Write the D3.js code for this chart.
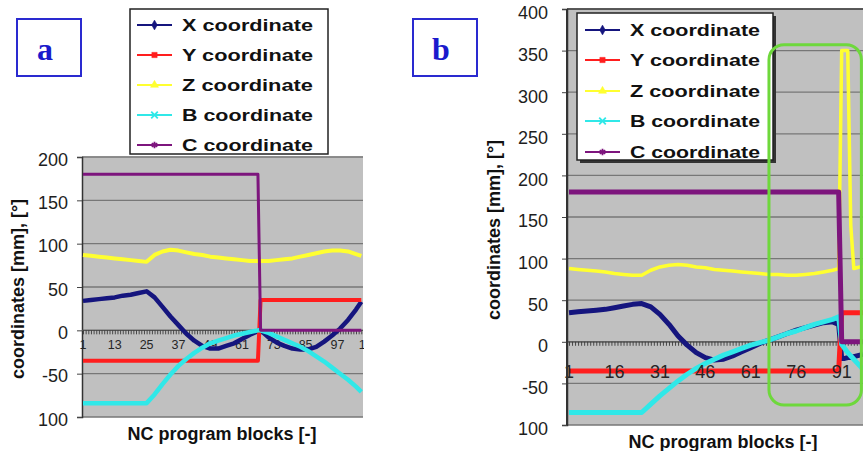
<!DOCTYPE html>
<html>
<head>
<meta charset="UTF-8">
<title>NC coordinates</title>
<script src="https://d3js.org/d3.v7.min.js"></script>
<style>
  body { margin: 0; background: #fff; }
  svg { display: block; font-family: "Liberation Sans", Arial, sans-serif; }
</style>
</head>
<body>
<svg width="863" height="451"></svg>
<script>
// ---- panel a data (NC block, value) ----
const aBlocks = [1,4,7,10,13,16,19,22,25,28,31,34,37,40,43,46,49,52,55,58,61,64,67,
                 68,71,74,77,80,83,86,89,92,95,98,101,104,106];
const aX = [34,35,36,37,38,40,41,43,45,38,27,16,6,-4,-12,-18,-21,-21,-18,-15,-10,-5,-1,
            0,-8,-14,-18,-21,-22,-22,-19,-13,-6,2,12,24,33];
const aY = [-35,-35,-35,-35,-35,-35,-35,-35,-35,-35,-35,-35,-35,-35,-35,-35,-35,-35,-35,-35,-35,-35,-35,
            35,35,35,35,35,35,35,35,35,35,35,35,35,35];
const aZ = [87,86,85,84,83,82,81,80,79,87,91,93,92,90,88,87,85,84,83,82,81,80,80,
            80,80,81,82,83,85,87,89,91,92,92,91,88,86];
const aB = [-84,-84,-84,-84,-84,-84,-84,-84,-84,-74,-62,-51,-41,-33,-26,-20,-15,-12,-9,-6,-4,-2,0,
            0,-3,-7,-11,-15,-19,-24,-30,-36,-43,-50,-57,-65,-71];
const aC = [180,180,180,180,180,180,180,180,180,180,180,180,180,180,180,180,180,180,180,180,180,180,180,
            0,0,0,0,0,0,0,0,0,0,0,0,0,0];
const aXLabels = [1,13,25,37,49,61,73,85,97,109];
const aYTicks = [200,150,100,50,0,-50,-100];
const aYLabels = ["200","150","100","50","0","-50","100"];

// ---- panel b data ----
const bBlocks = [1,4,7,10,13,16,19,22,25,28,31,34,37,40,43,46,49,52,55,58,61,64,67,70,73,76,79,82,85,88,
                 90,91,92,93,94,95,96,97,98];
const bX = [35,36,37,38,39,41,43,45,46,42,33,21,7,-4,-13,-19,-22,-21,-17,-12,-7,-2,2,6,10,14,17,20,23,24,
            21,-20,-20,-19,-19,-18,-17,-16,-15];
const bY = [-35,-35,-35,-35,-35,-35,-35,-35,-35,-35,-35,-35,-35,-35,-35,-35,-35,-35,-35,-35,-35,-35,-35,-35,-35,-35,-35,-35,-35,-35,
            -35,35,35,35,35,35,35,35,35];
const bZ = [88,87,86,85,84,82,81,80,80,86,90,92,93,92,90,89,87,86,85,84,83,82,81,81,80,80,81,82,84,86,
            88,350,350,350,140,88,89,90,90];
const bB = [-85,-85,-85,-85,-85,-85,-85,-85,-85,-75,-65,-56,-47,-39,-32,-26,-21,-16,-12,-8,-4,-1,2,6,10,13,17,21,24,27,
            30,-3,-8,-13,-17,-21,-25,-29,-33];
const bC = [180,180,180,180,180,180,180,180,180,180,180,180,180,180,180,180,180,180,180,180,180,180,180,180,180,180,180,180,180,180,
            180,0,0,0,0,0,0,0,0];
const bXLabels = [1,16,31,46,61,76,91];
const bYTicks = [400,350,300,250,200,150,100,50,0,-50,-100];
const bYLabels = ["400","350","300","250","200","150","100","50","0","-50","100"];

const seriesNames = ["X coordinate","Y coordinate","Z coordinate","B coordinate","C coordinate"];
const colors = ["#15157e","#ff1e1e","#ffff30","#30e8e8","#7d157d"];

const svg = d3.select("svg");
const defs = svg.append("defs");

function panel(o) {
  const g = svg.append("g");
  const x = d3.scaleLinear().domain(o.xDomain).range(o.xRange);
  const y = d3.scaleLinear().domain([-100, o.yMax]).range([o.bottom, o.top]);

  // plot area
  g.append("rect")
    .attr("x", o.left).attr("y", o.top)
    .attr("width", o.right - o.left).attr("height", o.bottom - o.top)
    .attr("fill", "#c0c0c0");

  // grid
  g.selectAll(".grid").data(o.yTicks).enter().append("line")
    .attr("x1", o.left).attr("x2", o.right)
    .attr("y1", d => y(d)).attr("y2", d => y(d))
    .attr("stroke", "#777").attr("stroke-width", 1.3);

  g.append("line")
    .attr("x1", o.left).attr("x2", o.right).attr("y1", o.top).attr("y2", o.top)
    .attr("stroke", o.frame).attr("stroke-width", 1.5);

  // y axis
  const ya = g.append("g")
    .attr("transform", `translate(${o.left},0)`)
    .call(d3.axisLeft(y).tickValues(o.yTicks).tickSize(5).tickFormat((d, i) => o.yLabels[i]));
  ya.select(".domain").attr("stroke", "#333").attr("stroke-width", 1.5);
  ya.selectAll(".tick line").attr("stroke", "#444");
  ya.selectAll("text")
    .attr("font-size", 18).attr("fill", "#1e1e1e")
    .attr("x", -(o.left - o.yLabelRight)).attr("dy", o.yLabelDy);
  ya.attr("font-family", null);

  // x axis (category ticks on the zero line)
  const cats = d3.range(o.xDomain[0], Math.floor(o.xDomain[1]) + 1);
  const xa = g.append("g")
    .attr("transform", `translate(0,${y(0)})`)
    .call(d3.axisBottom(x).tickValues(cats).tickSize(4).tickFormat(""));
  xa.select(".domain").attr("stroke", "#555").attr("stroke-width", 1.2)
    .attr("d", `M${o.left},0H${o.right}`);
  xa.selectAll(".tick line").attr("stroke", "#3a3a3a").attr("stroke-width", 0.9);

  defs.append("clipPath").attr("id", "clip" + o.id)
    .append("rect").attr("x", 0).attr("y", 0).attr("width", o.right + 1).attr("height", 451);

  const drawLabels = () => {
    g.append("g").attr("clip-path", `url(#clip${o.id})`)
      .selectAll("text").data(o.xLabels).enter().append("text")
      .attr("x", d => x(d)).attr("y", y(0) + o.xLabelDy)
      .attr("text-anchor", "middle")
      .attr("font-size", o.xLabelSize).attr("fill", "#262626")
      .text(d => d);
  };
  if (!o.labelsOnTop) drawLabels();

  // series
  const line = d3.line().x(d => x(d[0])).y(d => y(d[1]));
  o.series.forEach((vals, i) => {
    g.append("path")
      .datum(o.blocks.map((b, k) => [b, vals[k]]))
      .attr("d", line)
      .attr("fill", "none")
      .attr("stroke", colors[i])
      .attr("stroke-width", o.widths[i])
      .attr("stroke-linejoin", "round");
  });

  if (o.labelsOnTop) drawLabels();

  // axis titles
  g.append("text")
    .attr("transform", `translate(${o.yTitleX},${o.yTitleY}) rotate(-90)`)
    .attr("text-anchor", "middle").attr("dy", "0.35em")
    .attr("font-size", 18).attr("font-weight", "bold").attr("fill", "#111")
    .text("coordinates [mm], [°]");
  g.append("text")
    .attr("x", o.xTitleX).attr("y", o.xTitleY)
    .attr("text-anchor", "middle")
    .attr("font-size", 18).attr("font-weight", "bold").attr("fill", "#111")
    .text("NC program blocks [-]");

  // panel letter
  g.append("rect")
    .attr("x", o.tag[0]).attr("y", 19).attr("width", 64).attr("height", 57)
    .attr("fill", "#fff").attr("stroke", "#2a2ad0").attr("stroke-width", 2);
  g.append("text")
    .attr("x", o.tag[0] + 28).attr("y", 60)
    .attr("text-anchor", "middle")
    .attr("font-family", "'Liberation Serif','DejaVu Serif',serif")
    .attr("font-size", 32).attr("font-weight", "bold").attr("fill", "#1a1acc")
    .text(o.tag[1]);

  // legend
  const L = o.legend;
  if (L.shadow) {
    g.append("rect").attr("x", L.x + 3).attr("y", L.y + 3).attr("width", L.w).attr("height", L.h)
      .attr("fill", "#333");
  }
  g.append("rect").attr("x", L.x).attr("y", L.y).attr("width", L.w).attr("height", L.h)
    .attr("fill", "#fff").attr("stroke", "#222").attr("stroke-width", 1.5);
  const symbols = [d3.symbolDiamond, d3.symbolSquare, d3.symbolTriangle,
                   d3.symbolTimes || d3.symbolCross, d3.symbolAsterisk || d3.symbolCross];
  seriesNames.forEach((name, i) => {
    const yy = L.rows[i];
    g.append("line")
      .attr("x1", L.lineX[0]).attr("x2", L.lineX[1]).attr("y1", yy).attr("y2", yy)
      .attr("stroke", colors[i]).attr("stroke-width", 2);
    const filled = i < 3;
    g.append("path")
      .attr("transform", `translate(${(L.lineX[0] + L.lineX[1]) / 2},${yy})`)
      .attr("d", d3.symbol().type(symbols[i]).size(filled ? 28 : 30)())
      .attr("fill", filled ? colors[i] : "none")
      .attr("stroke", colors[i]).attr("stroke-width", filled ? 0.5 : 1.8);
    g.append("text")
      .attr("x", L.textX).attr("y", yy).attr("dy", "0.36em")
      .attr("font-size", L.size).attr("font-weight", "bold").attr("fill", "#111")
      .attr("textLength", L.textW).attr("lengthAdjust", "spacingAndGlyphs")
      .text(name);
  });
  return { x, y, g };
}

panel({
  id: "a",
  left: 82, right: 363, top: 157, bottom: 417,
  xDomain: [1, 106], xRange: [83, 361.3], yMax: 200,
  yTicks: aYTicks, yLabels: aYLabels, yLabelRight: 68, yLabelDy: "0.45em",
  xLabels: aXLabels, xLabelDy: 19, xLabelSize: 12.5, labelsOnTop: false,
  blocks: aBlocks, series: [aX, aY, aZ, aB, aC], widths: [4.5, 4, 4, 4.5, 3],
  frame: "#8a8a8a",
  yTitleX: 18, yTitleY: 289, xTitleX: 222, xTitleY: 440,
  tag: [17, "a"],
  legend: { x: 130, y: 9, w: 198, h: 145, rows: [25, 55, 85, 115, 145],
            lineX: [137, 172], textX: 182, textW: 131, size: 17, shadow: false }
});

const pb = panel({
  id: "b",
  left: 567, right: 880, top: 9, bottom: 425,
  xDomain: [1, 98], xRange: [569, 862.9], yMax: 400,
  yTicks: bYTicks, yLabels: bYLabels, yLabelRight: 548, yLabelDy: "0.55em",
  xLabels: bXLabels, xLabelDy: 36, xLabelSize: 18, labelsOnTop: true,
  blocks: bBlocks, series: [bX, bY, bZ, bB, bC], widths: [5, 5, 3.5, 5, 5],
  frame: "#444",
  yTitleX: 494, yTitleY: 230, xTitleX: 723, xTitleY: 448,
  tag: [413, "b"],
  legend: { x: 577, y: 13, w: 196, h: 147, rows: [30, 60, 91, 121, 152],
            lineX: [585, 620], textX: 630, textW: 130, size: 16.5, shadow: true }
});
pb.g.append("line").attr("x1", 567).attr("x2", 567).attr("y1", 9).attr("y2", 425)
  .attr("stroke", "#333").attr("stroke-width", 2);

// highlight of the spike region
pb.g.append("rect")
  .attr("x", pb.x(67)).attr("y", pb.y(357))
  .attr("width", pb.x(97.5) - pb.x(67)).attr("height", pb.y(-76) - pb.y(357))
  .attr("rx", 15).attr("fill", "none")
  .attr("stroke", "#6ed83c").attr("stroke-width", 3);
</script>
</body>
</html>
